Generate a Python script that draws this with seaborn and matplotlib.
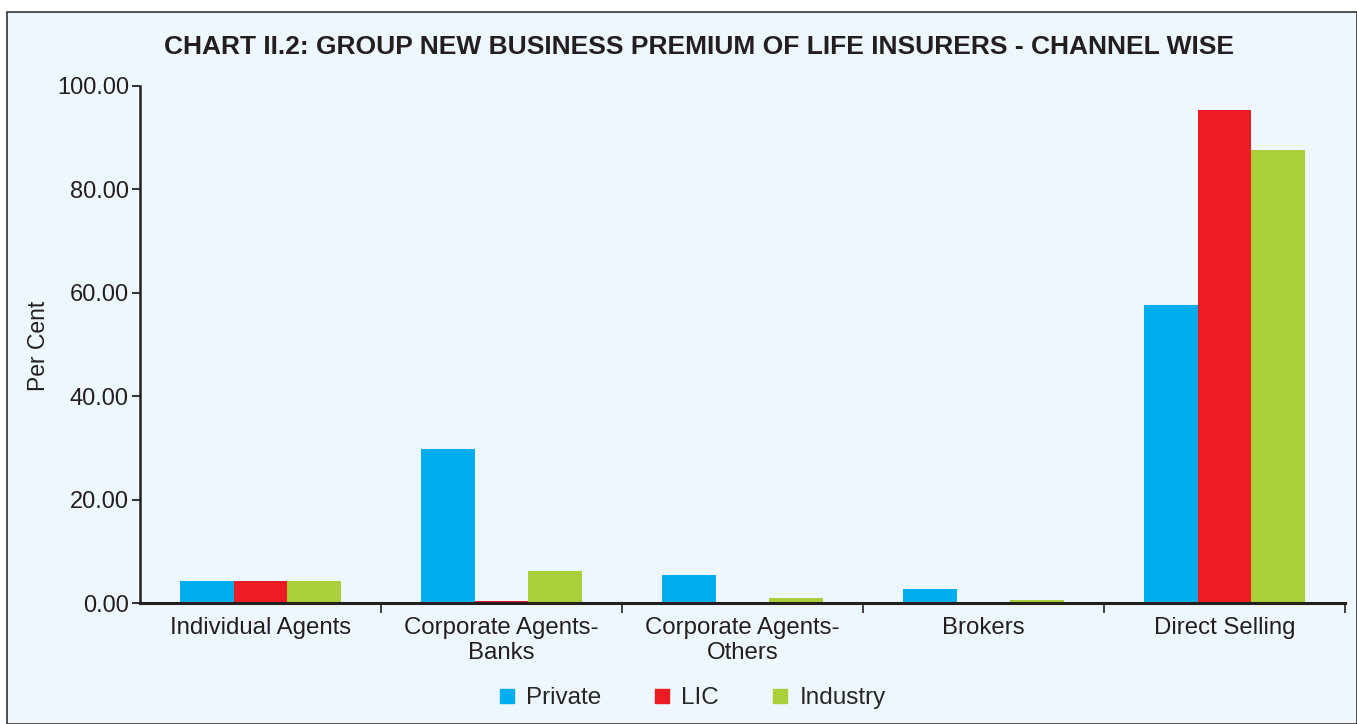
import matplotlib
matplotlib.use("Agg")
import matplotlib.pyplot as plt
import seaborn as sns
import pandas as pd
import numpy as np
from matplotlib.patches import Rectangle
from matplotlib.lines import Line2D

categories = ["Individual Agents", "Corporate Agents-\nBanks", "Corporate Agents-\nOthers", "Brokers", "Direct Selling"]
series = ["Private", "LIC", "Industry"]
private = [4.2, 29.7, 5.5, 2.8, 57.6]
lic = [4.3, 0.4, 0.0, 0.0, 95.4]
industry = [4.2, 6.2, 1.0, 0.5, 87.6]
yticks = [0, 20, 40, 60, 80, 100]

colors = ["#00AEEF", "#ED1C24", "#A9D038"]
bg = "#EFF7FE"

df = pd.DataFrame({
    "Channel": categories * 3,
    "Series": ["Private"] * 5 + ["LIC"] * 5 + ["Industry"] * 5,
    "Value": private + lic + industry,
})

sns.set_style("ticks")
plt.rcParams['font.family'] = ['Liberation Sans', 'DejaVu Sans']

fig = plt.figure(figsize=(13.57, 7.24), dpi=100, facecolor="white")
fig.patches.append(Rectangle((7 / 1357, 0), 1350 / 1357, (724 - 12) / 724,
                             transform=fig.transFigure, facecolor=bg,
                             edgecolor="#333333", linewidth=1.2, zorder=-10))

ax = fig.add_axes([140 / 1357, 1 - 603 / 724, (1345 - 140) / 1357, (603 - 86) / 724])
ax.set_facecolor(bg)
sns.barplot(data=df, x="Channel", y="Value", hue="Series", palette=colors,
            width=0.67, ax=ax, saturation=1, linewidth=0, legend=False)

ax.set_xlim(-0.5, 4.5)
ax.set_ylim(0, 100)
ax.set_yticks(yticks)
ax.set_yticklabels([f"{v:.2f}" for v in yticks], fontsize=17, color="#231F20")
ax.tick_params(axis="y", length=6, width=1.3, color="#231F20", pad=2)
ax.set_xticks(range(5))
ax.set_xticklabels(categories, fontsize=17.3, color="#231F20", linespacing=1.2)
ax.tick_params(axis="x", which="major", length=0, pad=10)
ax.set_xticks(np.arange(0.5, 4.6, 1), minor=True)
ax.tick_params(axis="x", which="minor", length=7, width=1.2, color="#231F20")
ax.set_xlabel("")
ax.set_ylabel("Per Cent", fontsize=16.5, color="#231F20")
ax.yaxis.set_label_coords((50 - 140) / 1205, 0.497)
for s in ["top", "right"]:
    ax.spines[s].set_visible(False)
ax.spines["left"].set_linewidth(1.8)
ax.spines["bottom"].set_linewidth(2.2)
ax.spines["left"].set_color("#231F20")
ax.spines["bottom"].set_color("#231F20")

fig.text(699 / 1357, 1 - 47 / 724, "CHART II.2: GROUP NEW BUSINESS PREMIUM OF LIFE INSURERS - CHANNEL WISE",
         ha="center", va="center", fontsize=19, fontweight="bold", color="#231F20")

handles = [Line2D([0], [0], marker="s", linestyle="", markersize=10,
                  markerfacecolor=c, markeredgecolor=c) for c in colors]
fig.legend(handles, series, loc="center", bbox_to_anchor=(690 / 1357, 1 - 698 / 724),
           ncol=3, frameon=False, fontsize=17.5, handletextpad=0.3, columnspacing=2.0,
           handlelength=1.0)

fig.savefig("out.png", dpi=100, facecolor="white")
